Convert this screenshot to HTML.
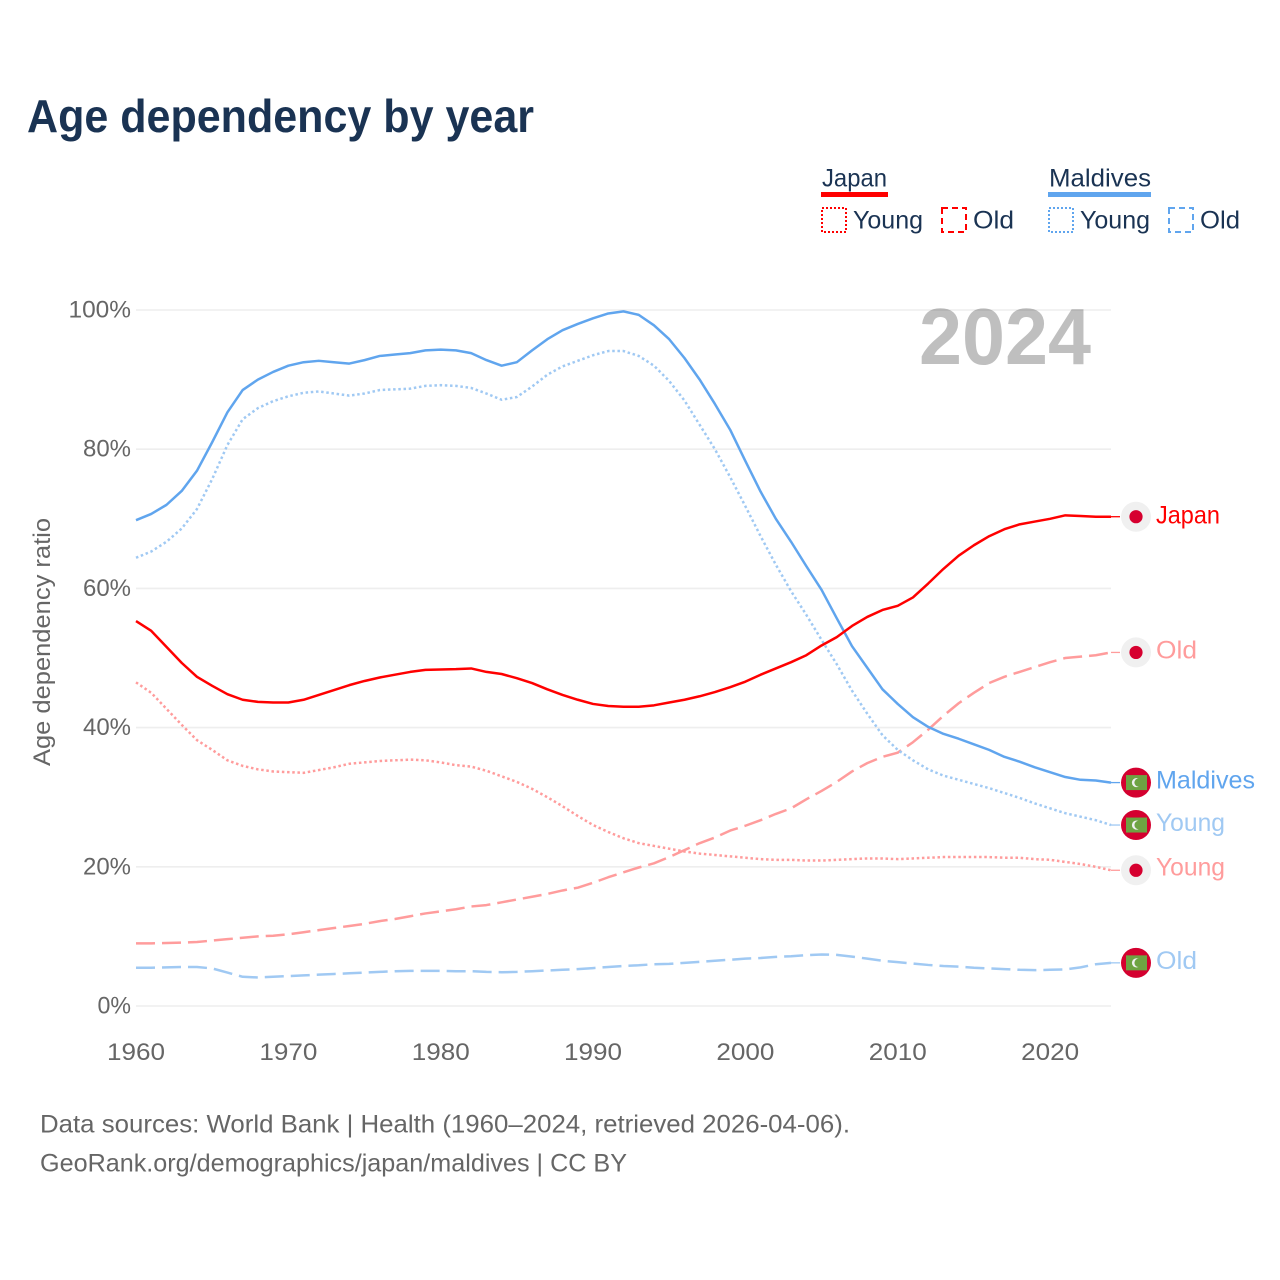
<!DOCTYPE html>
<html lang="en">
<head>
<meta charset="utf-8">
<title>Age dependency by year</title>
<style>
html,body{margin:0;padding:0;background:#fff;width:1280px;height:1280px;overflow:hidden}
svg{display:block}
text{font-family:"Liberation Sans",sans-serif}
</style>
</head>
<body>
<svg id="chart" xmlns="http://www.w3.org/2000/svg" width="1280" height="1280" viewBox="0 0 1280 1280">
  <rect x="0" y="0" width="1280" height="1280" fill="#fff"/>
  <text x="27" y="132" font-size="46" font-weight="700" fill="#1a3353" textLength="507" lengthAdjust="spacingAndGlyphs">Age dependency by year</text>

  <g>
    <text x="822" y="186.5" font-size="25" fill="#1a3353" textLength="65" lengthAdjust="spacingAndGlyphs">Japan</text>
    <rect x="821" y="192" width="67" height="5" fill="#ff0000"/>
    <rect x="822" y="208" width="24" height="24" fill="none" stroke="#ff0000" stroke-width="2" stroke-dasharray="2 2"/>
    <text x="853" y="228.5" font-size="25" fill="#1a3353" textLength="70" lengthAdjust="spacingAndGlyphs">Young</text>
    <rect x="942" y="208" width="24" height="24" fill="none" stroke="#ff0000" stroke-width="2" stroke-dasharray="6 4"/>
    <text x="973" y="228.5" font-size="25" fill="#1a3353" textLength="41" lengthAdjust="spacingAndGlyphs">Old</text>

    <text x="1049" y="186.5" font-size="25" fill="#1a3353" textLength="102" lengthAdjust="spacingAndGlyphs">Maldives</text>
    <rect x="1048" y="192" width="103" height="5" fill="#60a5ee"/>
    <rect x="1049" y="208" width="24" height="24" fill="none" stroke="#60a5ee" stroke-width="2" stroke-dasharray="2 2"/>
    <text x="1080" y="228.5" font-size="25" fill="#1a3353" textLength="70" lengthAdjust="spacingAndGlyphs">Young</text>
    <rect x="1169" y="208" width="24" height="24" fill="none" stroke="#60a5ee" stroke-width="2" stroke-dasharray="6 4"/>
    <text x="1200" y="228.5" font-size="25" fill="#1a3353" textLength="40" lengthAdjust="spacingAndGlyphs">Old</text>
  </g>

  <g id="grid"></g>
  <g id="yticks"></g>
  <g id="xticks"></g>
  <text transform="translate(50 642) rotate(-90)" text-anchor="middle" font-size="24" fill="#666" textLength="248" lengthAdjust="spacingAndGlyphs">Age dependency ratio</text>
  <text x="919" y="364" font-size="80" font-weight="700" fill="#000" fill-opacity="0.25" textLength="172" lengthAdjust="spacingAndGlyphs">2024</text>

  <g id="series"></g>
  <g id="markers"></g>

  <text x="40" y="1132.5" font-size="25" fill="#666" textLength="810" lengthAdjust="spacingAndGlyphs">Data sources: World Bank | Health (1960–2024, retrieved 2026-04-06).</text>
  <text x="40" y="1171.5" font-size="25" fill="#666" textLength="587" lengthAdjust="spacingAndGlyphs">GeoRank.org/demographics/japan/maldives | CC BY</text>
</svg>

<script>
const years = [1960,1961,1962,1963,1964,1965,1966,1967,1968,1969,1970,1971,1972,1973,1974,1975,1976,1977,1978,1979,1980,1981,1982,1983,1984,1985,1986,1987,1988,1989,1990,1991,1992,1993,1994,1995,1996,1997,1998,1999,2000,2001,2002,2003,2004,2005,2006,2007,2008,2009,2010,2011,2012,2013,2014,2015,2016,2017,2018,2019,2020,2021,2022,2023,2024];
const maldivesTotal = [69.8,70.7,72,74,76.9,81,85.3,88.5,90,91.1,92,92.5,92.7,92.5,92.3,92.8,93.4,93.6,93.8,94.2,94.3,94.2,93.8,92.8,92,92.5,94.2,95.8,97.1,98,98.8,99.5,99.8,99.3,97.8,95.8,93.1,90,86.5,82.8,78.3,73.9,70,66.7,63.2,59.8,55.7,51.7,48.6,45.5,43.4,41.5,40.1,39.1,38.4,37.6,36.8,35.8,35.1,34.3,33.6,32.9,32.5,32.4,32.1];
const maldivesYoung = [64.4,65.3,66.7,68.6,71.4,75.7,80.6,84.3,85.9,86.9,87.6,88.1,88.3,88,87.7,88,88.5,88.6,88.7,89.1,89.2,89.1,88.8,88,87.1,87.5,89,90.7,91.9,92.7,93.5,94.1,94.1,93.4,92,89.8,87,83.5,80,76,71.8,67.5,63.4,59.6,56.2,52.6,49.1,45.3,42,38.9,36.8,35.3,34,33.1,32.5,31.9,31.3,30.6,29.9,29.1,28.4,27.7,27.2,26.7,26];
const maldivesOld = [5.5,5.5,5.55,5.6,5.6,5.4,4.8,4.2,4.1,4.2,4.3,4.4,4.5,4.6,4.7,4.8,4.9,5,5.05,5.05,5.05,5,5,4.9,4.85,4.9,5,5.1,5.2,5.3,5.45,5.6,5.75,5.85,6,6.05,6.2,6.35,6.5,6.65,6.8,6.9,7.05,7.15,7.3,7.4,7.35,7.1,6.8,6.5,6.3,6.1,5.9,5.75,5.65,5.5,5.4,5.3,5.2,5.15,5.2,5.25,5.55,6,6.2];
const japanTotal = [55.3,53.9,51.6,49.3,47.3,46,44.8,44,43.7,43.6,43.6,44,44.7,45.4,46.1,46.7,47.2,47.6,48,48.3,48.35,48.4,48.5,48,47.7,47.1,46.4,45.5,44.7,44,43.4,43.1,43,43,43.2,43.6,44,44.5,45.1,45.8,46.6,47.6,48.5,49.4,50.4,51.8,53,54.6,55.9,56.9,57.5,58.7,60.7,62.8,64.7,66.2,67.5,68.5,69.2,69.6,70,70.5,70.4,70.3,70.3];
const japanYoung = [46.5,45,42.7,40.4,38.2,36.8,35.3,34.5,34,33.7,33.6,33.5,33.9,34.3,34.8,35,35.2,35.3,35.4,35.3,35,34.6,34.4,33.8,33,32.2,31.2,30,28.7,27.3,26,25,24.1,23.4,23,22.6,22.2,21.9,21.7,21.5,21.3,21.1,21,21,20.9,20.9,21,21.1,21.2,21.2,21.1,21.2,21.3,21.4,21.4,21.4,21.4,21.3,21.3,21.1,21,20.7,20.4,20,19.5];
const japanOld = [9,9,9.05,9.1,9.2,9.4,9.6,9.8,10,10.1,10.3,10.6,10.9,11.2,11.5,11.8,12.2,12.5,12.9,13.3,13.6,13.9,14.3,14.5,14.9,15.3,15.7,16.1,16.6,17,17.7,18.5,19.2,19.9,20.5,21.4,22.4,23.4,24.2,25.2,25.9,26.7,27.6,28.4,29.7,30.9,32.2,33.7,34.9,35.8,36.4,37.9,39.7,41.7,43.5,45,46.4,47.3,48,48.7,49.4,50,50.2,50.4,50.8];
const yTicks = [0,20,40,60,80,100];
const yTickLabels = ["0%","20%","40%","60%","80%","100%"];
const xTicks = [1960,1970,1980,1990,2000,2010,2020];
const xTickLabels = ["1960","1970","1980","1990","2000","2010","2020"];

const NS = "http://www.w3.org/2000/svg";
function xScale(year){ return 136 + (year - 1960) * (1111 - 136) / (2024 - 1960); }
function yScale(v){ return 1006 - v * (1006 - 310) / 100; }
function make(tag, attrs, parent){
  const el = document.createElementNS(NS, tag);
  for (const k in attrs) el.setAttribute(k, attrs[k]);
  parent.appendChild(el);
  return el;
}
function tickWidth(label){
  let w = 0;
  for (const c of label) w += c === "%" ? 19 : 14.5;
  return w;
}

const gridG = document.getElementById("grid");
const yG = document.getElementById("yticks");
const xG = document.getElementById("xticks");
const seriesG = document.getElementById("series");
const markersG = document.getElementById("markers");

yTicks.forEach(function(t, i){
  const line = make("line", {x1:136, x2:1111, y1:yScale(t), y2:yScale(t), stroke:"#eeeeee", "stroke-width":1.6}, gridG);
  
  
  const label = make("text", {x:131, y:yScale(t)+7.5, "text-anchor":"end", "font-size":24, fill:"#666", textLength:tickWidth(yTickLabels[i]), lengthAdjust:"spacingAndGlyphs"}, yG);
  label.textContent = yTickLabels[i];
  
  
});
xTicks.forEach(function(t, i){
  const label = make("text", {x:xScale(t), y:1060, "text-anchor":"middle", "font-size":24, fill:"#666", textLength:tickWidth(xTickLabels[i]), lengthAdjust:"spacingAndGlyphs"}, xG);
  label.textContent = xTickLabels[i];
  
  
});

const seriesList = [
  {values:japanOld, color:"#ff9c9c", dash:"19 7", width:2.5, name:"japan-old", country:"japan", label:"Old", lw:41, dy:6},
  {values:japanYoung, color:"#ff9c9c", dash:"2.5 2.7", width:2.5, name:"japan-young", country:"japan", label:"Young", lw:69, dy:5},
  {values:maldivesOld, color:"#a0c9f3", dash:"19 7", width:2.5, name:"maldives-old", country:"maldives", label:"Old", lw:41, dy:6},
  {values:maldivesYoung, color:"#a0c9f3", dash:"2.5 2.7", width:2.5, name:"maldives-young", country:"maldives", label:"Young", lw:69, dy:6},
  {values:maldivesTotal, color:"#60a5ee", dash:"", width:2.5, name:"maldives-total", country:"maldives", label:"Maldives", lw:99, dy:6},
  {values:japanTotal, color:"#ff0000", dash:"", width:2.5, name:"japan-total", country:"japan", label:"Japan", lw:64, dy:7}
];

seriesList.forEach(function(s){
  const d = s.values.map(function(v, i){
    return (i ? "L" : "M") + xScale(years[i]).toFixed(2) + " " + yScale(v).toFixed(2);
  }).join(" ");
  const attrs = {d:d, fill:"none", stroke:s.color, "stroke-width":s.width, "stroke-linejoin":"round"};
  if (s.dash) attrs["stroke-dasharray"] = s.dash;
  const path = make("path", attrs, seriesG);
  
  

  const lastY = yScale(s.values[s.values.length - 1]);
  const conn = make("line", {x1:1111, x2:1120, y1:lastY, y2:lastY, stroke:s.color, "stroke-width":1.3}, seriesG);
  
  

  const g = make("g", {}, markersG);
  
  
  if (s.country === "japan") {
    make("circle", {cx:1136, cy:lastY, r:15, fill:"#f0f0f0"}, g);
    make("circle", {cx:1136, cy:lastY, r:6.6, fill:"#d6002f"}, g);
  } else {
    make("circle", {cx:1136, cy:lastY, r:15, fill:"#d4002f"}, g);
    make("rect", {x:1126, y:lastY-7.5, width:21, height:15, fill:"#6ea342"}, g);
    make("circle", {cx:1136.5, cy:lastY, r:4.6, fill:"#f0f0f0"}, g);
    make("circle", {cx:1138.6, cy:lastY, r:4.2, fill:"#6ea342"}, g);
  }

  const text = make("text", {x:1156, y:lastY+s.dy, "font-size":25, fill:s.color, textLength:s.lw, lengthAdjust:"spacingAndGlyphs"}, markersG);
  text.textContent = s.label;
  
  
});
</script>
</body>
</html>
